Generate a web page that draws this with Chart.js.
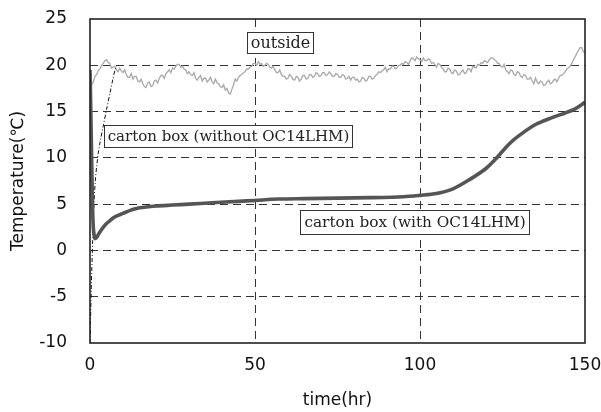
<!DOCTYPE html>
<html>
<head>
<meta charset="utf-8">
<script src="https://cdn.jsdelivr.net/npm/chart.js@4/dist/chart.umd.min.js"></script>
<style>
html,body{margin:0;padding:0;background:#fff;}
#wrap{width:601px;height:412px;position:relative;}
</style>
</head>
<body>
<div id="wrap"><canvas id="c" width="601" height="412"></canvas></div>
<script>
// ---- data ----
const xTicks = [0, 50, 100, 150];
const yTicks = [-10, -5, 0, 5, 10, 15, 20, 25];

// outside temperature, every half hour from t = 0 to 150 hr
const outsideStep = 0.5;
const outsideValues = [
 17.5,17.9,18.2,18.8,19.0,19.4,19.6,20.0,20.2,20.5,
 20.6,20.3,20.2,19.7,19.8,19.9,19.5,19.3,19.7,19.4,
 19.2,19.5,19.0,18.7,18.7,19.1,18.5,18.8,18.8,18.3,
 18.2,18.5,18.0,17.7,17.6,18.1,18.2,17.7,17.8,18.3,
 18.4,18.1,18.6,18.9,18.9,18.6,19.1,19.3,19.5,19.2,
 19.7,19.6,19.9,20.1,20.1,19.8,19.9,19.6,19.5,19.1,
 19.3,19.0,18.9,19.2,18.6,18.4,18.7,18.9,18.3,18.6,
 18.6,18.2,18.4,18.7,18.2,18.0,18.5,18.1,18.0,17.7,
 17.6,17.9,17.3,17.5,17.0,16.9,17.4,17.9,18.5,18.3,
 18.7,18.9,19.0,19.2,19.3,19.6,19.6,19.8,19.9,20.2,
 20.2,20.0,20.4,20.1,20.2,19.9,20.0,20.2,20.1,19.8,
 19.7,19.9,19.5,19.2,19.2,19.5,19.0,18.8,18.8,18.5,
 18.6,19.0,18.8,18.5,18.4,18.8,18.7,18.3,18.5,18.9,
 18.9,18.5,18.6,19.0,19.0,18.7,18.8,19.2,19.1,18.8,
 18.9,19.2,19.2,18.9,19.0,19.3,19.1,18.8,18.8,19.1,
 19.0,18.7,18.7,19.0,18.9,18.5,18.6,18.8,18.4,18.7,
 18.7,18.4,18.5,18.2,18.3,18.7,18.6,18.3,18.4,18.8,
 18.8,18.5,18.6,18.9,19.0,19.3,19.2,19.4,19.5,19.8,
 19.3,19.6,19.6,19.9,19.9,19.6,19.7,20.0,20.0,20.2,
 20.1,20.4,20.3,20.1,20.5,20.8,20.7,20.5,20.9,20.7,
 20.6,20.4,20.8,20.5,20.5,20.7,20.6,20.2,20.3,20.1,
 19.8,20.2,20.1,19.8,19.6,19.3,19.3,19.7,19.6,19.2,
 19.1,19.5,19.4,19.0,19.0,19.3,19.5,19.1,19.2,19.6,
 19.6,19.3,19.9,19.8,19.7,20.1,20.0,20.3,20.2,20.5,
 20.4,20.3,20.6,20.8,20.8,20.6,20.5,20.2,20.2,19.9,
 19.8,20.1,19.5,19.3,19.1,19.5,19.4,19.0,18.9,19.3,
 19.2,18.8,18.7,19.0,18.9,18.5,18.5,18.7,18.3,18.0,
 18.6,18.2,18.0,18.3,18.2,17.8,17.9,18.2,18.4,18.0,
 18.1,18.4,18.5,18.2,18.6,18.9,18.9,19.1,19.3,19.6,
 19.7,19.9,20.2,20.6,20.9,21.3,21.6,21.9,21.9,21.5,
 21.3
];

// carton box (with OC14LHM)
const withTimes  = [0,0.3,0.7,1,1.5,2,3,4,5,6,7,8,10,12,15,20,25,30,37,45,50,57,65,75,85,95,100,105,110,115,120,123,127,130,135,140,144,147,150];
const withValues = [19.5,14,6,2.5,1.3,1.4,2.0,2.5,2.9,3.2,3.5,3.7,4.0,4.3,4.6,4.8,4.9,5.0,5.15,5.3,5.4,5.55,5.6,5.65,5.7,5.8,5.95,6.15,6.65,7.65,8.85,9.9,11.5,12.4,13.6,14.35,14.85,15.3,16.0];

// carton box (without OC14LHM)
const withoutTimes  = [0,0.4,0.8,1.2,1.6,2,2.5,3,4,5,6,7,7.6,8.2];
const withoutValues = [-10,-4,1,5,7.5,9,10.5,11.6,13.4,15.2,16.9,18.6,19.5,20.0];

const xTitle = 'time(hr)';
const yTitle = 'Temperature(℃)';
const labelOutside = 'outside';
const labelWithout = 'carton box (without OC14LHM)';
const labelWith = 'carton box (with OC14LHM)';

const pts = (xs, ys) => xs.map((x, i) => ({x: x, y: ys[i]}));
const outsidePts = outsideValues.map((v, i) => ({x: i * outsideStep, y: v}));

// annotation boxes: anchored in data coordinates (left, top)
const boxes = [
  {text: labelOutside, x: 47.6, y: 23.6, w: 66, h: 21, size: 16},
  {text: labelWithout, x: 4.2,  y: 13.6, w: 248, h: 22, size: 15},
  {text: labelWith,    x: 63.6, y: 4.4,  w: 229, h: 24, size: 15.3}
];

const frameAndLabels = {
  id: 'frameAndLabels',
  afterDatasetsDraw(chart) {
    const {ctx, chartArea: a, scales} = chart;
    ctx.save();
    ctx.textBaseline = 'middle';
    ctx.textAlign = 'center';
    boxes.forEach(b => {
      const l = Math.round(scales.x.getPixelForValue(b.x)) + 0.5;
      const t = Math.round(scales.y.getPixelForValue(b.y)) + 0.5;
      ctx.fillStyle = '#fff';
      ctx.fillRect(l, t, b.w, b.h);
      ctx.strokeStyle = '#333';
      ctx.lineWidth = 1;
      ctx.strokeRect(l, t, b.w, b.h);
      ctx.fillStyle = '#222';
      ctx.font = b.size + 'px "DejaVu Serif"';
      ctx.fillText(b.text, l + b.w / 2, t + b.h / 2 + 1);
    });
    ctx.strokeStyle = '#222';
    ctx.lineWidth = 1.6;
    ctx.strokeRect(a.left, a.top, a.right - a.left, a.bottom - a.top);
    ctx.restore();
  }
};

new Chart(document.getElementById('c'), {
  type: 'line',
  data: {
    datasets: [
      {label: labelWith, data: pts(withTimes, withValues), borderColor: '#555', borderWidth: 3.6, pointRadius: 0, tension: 0.3, fill: false},
      {label: labelWithout, data: pts(withoutTimes, withoutValues), borderColor: '#111', borderWidth: 1, borderDash: [4,2,1,2], pointRadius: 0, tension: 0.3, fill: false},
      {label: labelOutside, data: outsidePts, borderColor: '#a8a8a8', borderWidth: 1.3, pointRadius: 0, tension: 0, fill: false}
    ]
  },
  options: {
    responsive: false,
    animation: false,
    devicePixelRatio: 1,
    layout: {padding: {left: 0, right: 16, top: 19, bottom: 0}},
    plugins: {legend: {display: false}, tooltip: {enabled: false}},
    scales: {
      x: {
        type: 'linear', min: 0, max: 150,
        afterBuildTicks: s => { s.ticks = xTicks.map(v => ({value: v})); },
        afterFit: s => { s.height = 69; s.paddingLeft = 0; s.paddingRight = 0; s.paddingTop = 0; s.paddingBottom = 0; },
        ticks: {padding: 12, color: '#111', font: {family: '"DejaVu Sans"', size: 17}},
        grid: {drawTicks: false, color: c => (c.tick && (c.tick.value === 0 || c.tick.value === 150)) ? 'rgba(0,0,0,0)' : '#333', lineWidth: 1},
        border: {display: false, dash: [8,5]},
        title: {display: true, text: xTitle, color: '#111', font: {family: '"DejaVu Sans"', size: 17}, padding: {top: 0, bottom: 1}}
      },
      y: {
        type: 'linear', min: -10, max: 25,
        afterBuildTicks: s => { s.ticks = yTicks.map(v => ({value: v})); },
        afterFit: s => { s.width = 90; s.paddingLeft = 0; s.paddingRight = 0; s.paddingTop = 0; s.paddingBottom = 0; },
        ticks: {padding: 23, color: '#111', font: {family: '"DejaVu Sans"', size: 17}},
        grid: {drawTicks: false, color: c => (c.tick && (c.tick.value === 25 || c.tick.value === -10)) ? 'rgba(0,0,0,0)' : '#333', lineWidth: 1},
        border: {display: false, dash: [8,5]},
        title: {display: true, text: yTitle, color: '#111', font: {family: '"DejaVu Sans"', size: 17}, padding: {top: 8, bottom: 0}}
      }
    }
  },
  plugins: [frameAndLabels]
});
</script>
</body>
</html>
